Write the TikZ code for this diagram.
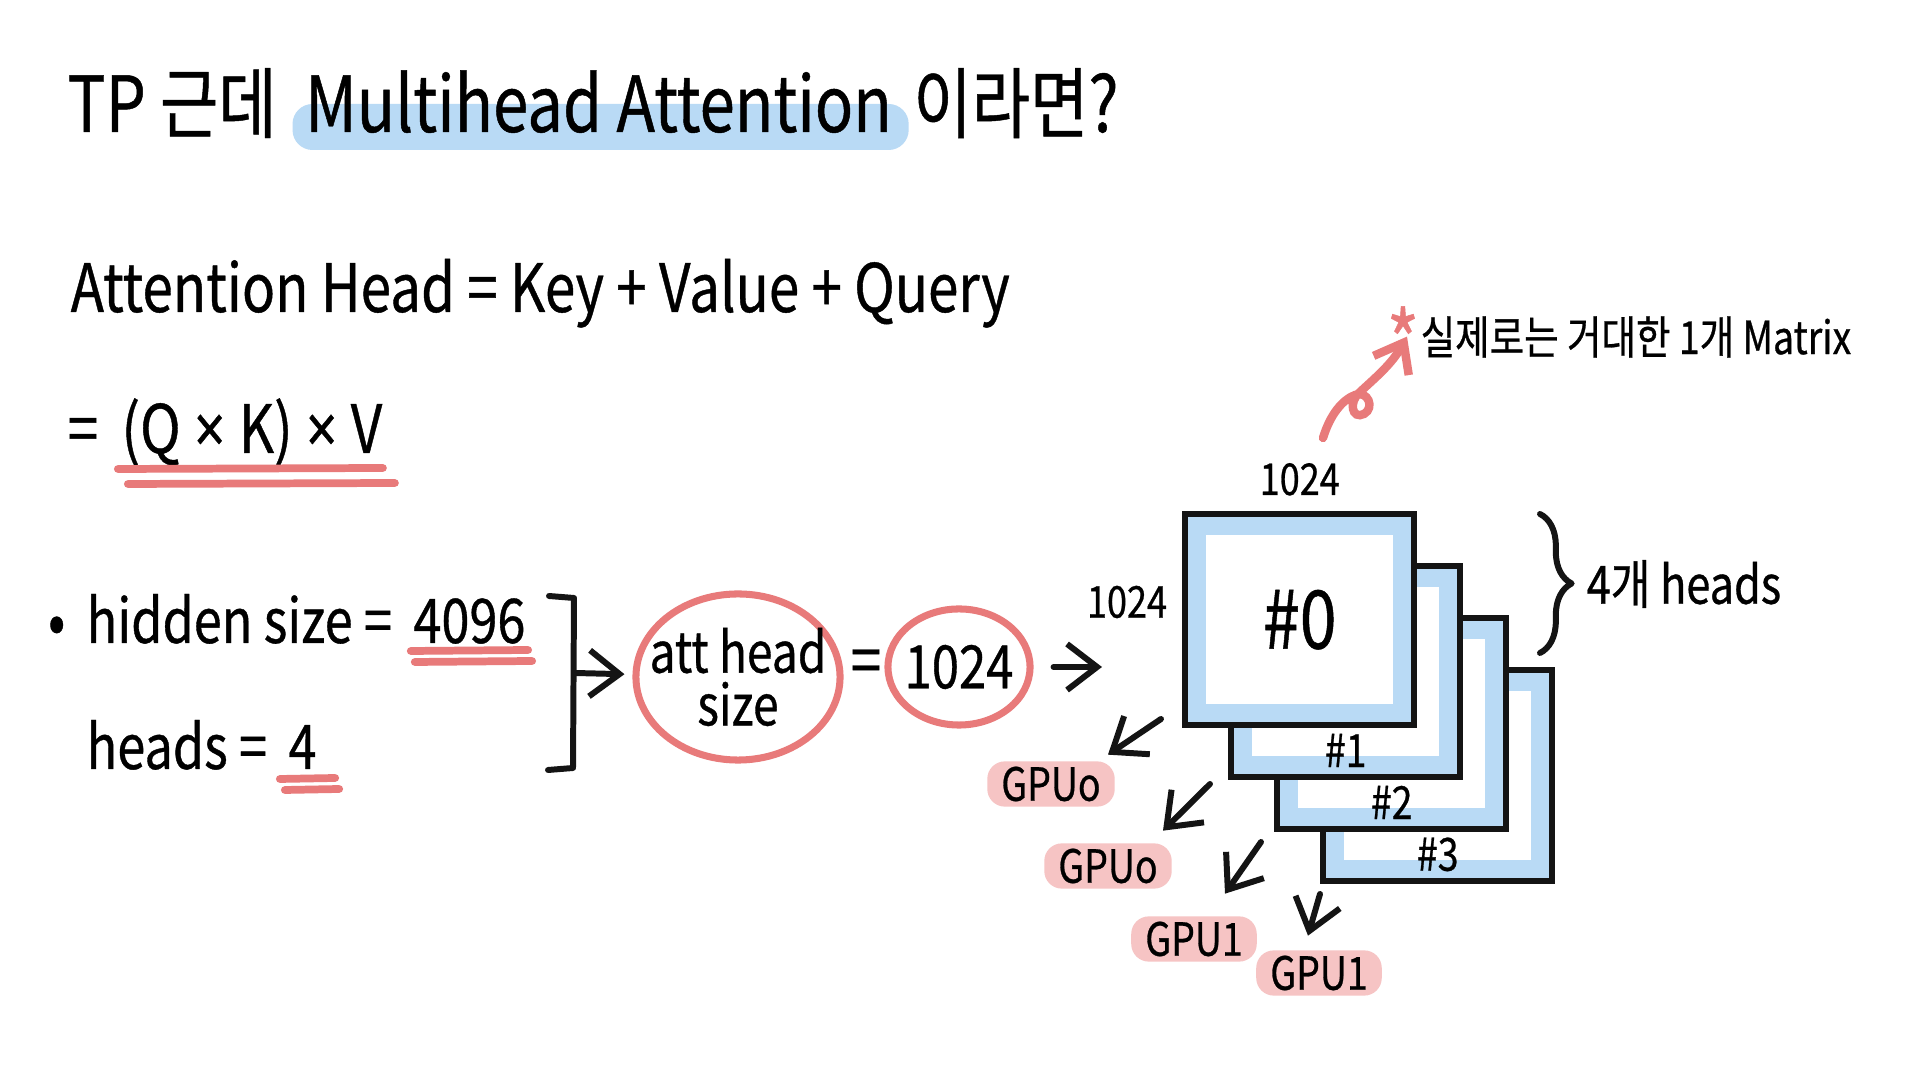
\documentclass[tikz,border=0pt]{standalone}
\usepackage{fontspec}
\setmainfont{Noto Sans CJK KR}[FakeStretch=0.82,FakeBold=0.6]
\newfontfamily\latinfont{Noto Sans}[FakeStretch=0.82,FakeBold=0.6]
\usetikzlibrary{arrows.meta,positioning,calc,shapes.geometric,backgrounds,decorations.pathreplacing}
\definecolor{MarkBlue}{RGB}{185,218,245}
\definecolor{PenRed}{RGB}{232,122,122}
\definecolor{TagPink}{RGB}{246,196,196}
\definecolor{InkBlack}{RGB}{20,20,20}
\newcommand{\sz}[1]{\fontsize{#1}{#1}\selectfont}
\newcommand{\tm}{\hspace{0.2em}{\latinfont ×}\hspace{0.2em}}

\tikzset{
  titletxt/.style={font=\sz{22},inner sep=0pt},
  bodytxt/.style={font=\sz{19},inner sep=0pt},
  listtxt/.style={font=\sz{17.5},inner sep=0pt},
  ink/.style={InkBlack,line width=1.7pt,line cap=round,line join=round},
  pointer/.style={ink,-{Straight Barb[length=3mm,width=4.6mm]}},
  penline/.style={PenRed,line width=2.2pt,line cap=round},
  circ/.style={ellipse,draw=PenRed,line width=2pt,inner sep=-20pt,font=\sz{17}},
  headbox/.style={fill=MarkBlue,draw=InkBlack,line width=1.8pt,minimum width=2.29cm,minimum height=2.11cm,inner sep=0pt},
  tag/.style={fill=TagPink,rounded corners=5pt,inner xsep=4pt,inner ysep=1.5pt,font=\sz{13}},
}

\begin{document}
\begin{tikzpicture}[x=0.01cm,y=-0.01cm]
  \useasboundingbox (0,0) rectangle (1920,1080);
  % title
  \node[titletxt,anchor=base west] (tp) at (67,132) {TP 근데};
  \node[titletxt,base right=0.27cm of tp] (mh) {Multihead Attention};
  \node[titletxt,base right=0.2cm of mh] (rm) {이라면?};
  \begin{scope}[on background layer]
    \fill[white] (0,0) rectangle (1920,1080);
    \fill[MarkBlue,rounded corners=0.2cm] ($(mh.base west)+(-12,-28)$) rectangle ($(mh.base east)+(16,18)$);
  \end{scope}

  \node[bodytxt,anchor=base west] (ahead) at (70,312) {Attention Head = Key + Value + Query};
  \node[bodytxt,anchor=base west] (eqa) at (67,453) {=};
  \node[bodytxt,base right=0.22cm of eqa] (qkv) {(Q\tm K)\tm V};
  \draw[penline] ($(qkv.base west)+(-3,16)$) -- ($(qkv.base east)+(0,15)$);
  \draw[penline] ($(qkv.base west)+(7,31)$) -- ($(qkv.base east)+(12,30)$);

  % hidden size / heads
  \node[listtxt,anchor=base west] (hid) at (86,643) {hidden size =};
  \node[listtxt,base left=0.2cm of hid] (dot) {•};
  \node[listtxt,base right=0.2cm of hid] (hidv) {4096};
  \draw[penline] ($(hidv.base west)+(-2,8)$) -- ($(hidv.base east)+(2,7)$);
  \draw[penline] ($(hidv.base west)+(2,19)$) -- ($(hidv.base east)+(6,18)$);
  \node[listtxt,anchor=base west] (hds) at (86,769) {heads =};
  \node[listtxt,base right=0.2cm of hds] (hdsv) {4};
  \draw[penline] ($(hdsv.base west)+(-8,10)$) -- ($(hdsv.base east)+(18,9)$);
  \draw[penline] ($(hdsv.base west)+(-3,21)$) -- ($(hdsv.base east)+(22,20)$);

  \draw[ink] (549,596) -- (574,598) -- (573,768) -- (548,770);
  \coordinate (brk) at (575,673);
  \node[circ,minimum width=2.04cm,minimum height=1.66cm,align=center,font=\fontsize{16}{15}\selectfont] (attc) at (738,677) {att head\\size};
  \draw[pointer,shorten >=0.08cm] (brk) -- (attc);
  \node[bodytxt] (eqb) at (866,667) {=};
  \node[circ,minimum width=1.42cm,minimum height=1.16cm] (onek) at (959,667) {1024};
  \coordinate (tohead) at (1102,667);
  \draw[pointer,shorten <=0.2cm] (onek) -- (tohead);

  % stacked heads
  \foreach \i in {3,2,1,0} {
    \node[headbox,anchor=north west] (head\i) at ({1182+46*\i},{511+52*\i}) {};
    \node[fill=white,minimum width=1.87cm,minimum height=1.69cm,inner sep=0pt] at (head\i) {};
  }
  \foreach \i in {1,2,3}
    \node[font=\sz{13}] at ([yshift=0.3cm]head\i.south) {\#\i};
  \node[font=\sz{23}] at (head0) {\#0};
  \node[font=\sz{12.5},above=0.03cm of head0] (topdim) {1024};
  \node[font=\sz{12.5}] (leftdim) at (1127,602) {1024};
  \draw[ink,decorate,decoration={brace,amplitude=9pt}] (1540,514) -- (1540,653);
  \node[font=\sz{15},anchor=west,inner sep=0pt] (nheads) at (1586,584) {4개 heads};

  % note
  \node[font=\sz{13},anchor=west,inner sep=0pt] (note) at (1420,337) {실제로는 거대한 1개 Matrix};
  \node[font=\sz{24},PenRed,inner sep=0pt] (star) at (1403,340) {*};
  \coordinate (curl) at (1323,438);
  \draw[PenRed,line width=2.4pt,line cap=round,-{Straight Barb[length=2.6mm,width=4mm]}]
    (curl) .. controls (1330,415) and (1342,400) .. (1355,395)
    .. controls (1368,390) and (1375,408) .. (1364,414)
    .. controls (1352,420) and (1348,402) .. (1360,392)
    .. controls (1375,378) and (1392,364) .. ([shift={(-13,21)}]note.north west);

  % gpu tags
  \node[tag] (gpu0) at (1051,784) {GPUo};
  \node[tag] (gpu1) at (1108,866) {GPUo};
  \node[tag] (gpu2) at (1194,939) {GPU1};
  \node[tag] (gpu3) at (1319,973) {GPU1};
  \coordinate (s0) at (1161,719);
  \coordinate (s1) at (1210,784);
  \coordinate (s2) at (1261,842);
  \coordinate (s3) at (1320,894);
  \draw[pointer] (s0) -- ($(gpu0.north)+(57,-6)$);
  \draw[pointer] (s1) -- ($(gpu1.north)+(55,-12)$);
  \draw[pointer] (s2) -- ($(gpu2.north)+(31,-22)$);
  \draw[pointer] (s3) -- ($(gpu3.north)+(-11,-14)$);
\end{tikzpicture}
\end{document}
